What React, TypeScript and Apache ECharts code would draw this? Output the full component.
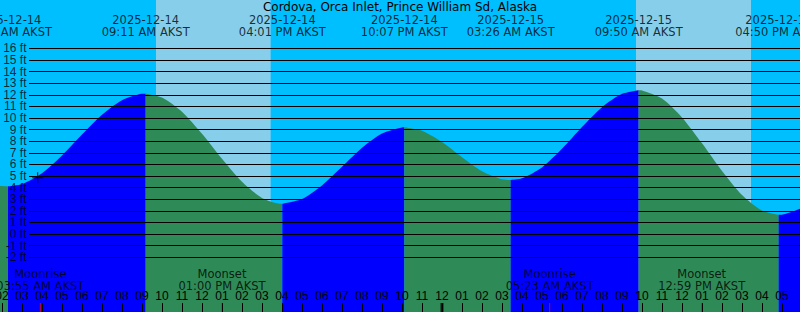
import React, { useEffect, useRef } from 'react';
import * as echarts from 'echarts';

const chartTitle = 'Cordova, Orca Inlet, Prince William Sd, Alaska';
const zoneName = 'AKST';

// tide extremes (high / low)
const tideEventDates = ['2025-12-14', '2025-12-14', '2025-12-14', '2025-12-14', '2025-12-15', '2025-12-15', '2025-12-15'];
const tideEventTimes = ['02:18 AM', '09:11 AM', '04:01 PM', '10:07 PM', '03:26 AM', '09:50 AM', '04:50 PM'];
const tideEventFeet = [4.1, 12.1, 2.6, 9.2, 4.65, 12.4, 1.65];

// water level (hours since 2025-12-14 00:00)
const curveHours = [1.9, 3, 4, 5, 6, 7, 8, 9, 10, 11, 12, 13, 14, 15, 16, 17, 18, 19, 20, 21, 22, 23, 24, 25, 26, 27, 28, 29, 30, 31, 32, 33, 34, 35, 36, 37, 38, 39, 40, 41, 41.9];
const curveFeet = [4.13, 4.3, 5.24, 6.77, 8.57, 10.27, 11.53, 12.09, 11.77, 10.54, 8.64, 6.48, 4.5, 3.11, 2.6, 3.01, 4.18, 5.79, 7.43, 8.66, 9.19, 8.9, 7.93, 6.62, 5.42, 4.72, 4.8, 5.74, 7.34, 9.22, 10.93, 12.08, 12.38, 11.68, 10.05, 7.82, 5.44, 3.37, 2.02, 1.66, 2.17];

// daylight
const sunriseDates = ['2025-12-14', '2025-12-15'];
const sunriseTimes = ['09:42 AM', '09:42 AM'];
const sunsetDates = ['2025-12-14', '2025-12-15'];
const sunsetTimes = ['03:26 PM', '03:27 PM'];

// moon
const moonEventNames = ['Moonrise', 'Moonset', 'Moonrise', 'Moonset'];
const moonEventDates = ['2025-12-14', '2025-12-14', '2025-12-15', '2025-12-15'];
const moonEventTimes = ['03:55 AM', '01:00 PM', '05:23 AM', '12:59 PM'];

// day boundary
const dayBoundaryDates = ['2025-12-15'];
const dayBoundaryTimes = ['12:00 AM'];

// current-time marker
const nowDate = '2025-12-14';
const nowTime = '03:47 AM';
const nowFeet = 4.85;

// hour ticks and height ticks
const hourTicks = [2, 3, 4, 5, 6, 7, 8, 9, 10, 11, 12, 13, 14, 15, 16, 17, 18, 19, 20, 21, 22, 23, 24, 25, 26, 27, 28, 29, 30, 31, 32, 33, 34, 35, 36, 37, 38, 39, 40, 41, 42];
const footTicks = [-2, -1, 0, 1, 2, 3, 4, 5, 6, 7, 8, 9, 10, 11, 12, 13, 14, 15, 16];

const X_MIN = 1.9;
const X_MAX = 41.9;
const Y_MIN = -6.724;
const Y_MAX = 20.172;
const FONT_NARROW = 'Liberation Sans';
const FONT_WIDE = 'DejaVu Sans';

function toHours(date: string, time: string): number {
  const dayOffset = (Date.parse(date) - Date.parse('2025-12-14')) / 3600000;
  const [hm, ap] = time.split(' ');
  let [h, m] = hm.split(':').map(Number);
  if (ap === 'PM' && h !== 12) h += 12;
  if (ap === 'AM' && h === 12) h = 0;
  return dayOffset + h + m / 60;
}

export default function App() {
  const ref = useRef<HTMLDivElement>(null);
  useEffect(() => {
    document.body.style.margin = '0';
    if (!ref.current) return;
    const chart = echarts.init(ref.current, undefined, { renderer: 'svg' });

    const eventHours = tideEventTimes.map((t, i) => toHours(tideEventDates[i], t));
    const pts: [number, number][] = curveHours.map((h, i) => [h, curveFeet[i]] as [number, number]);
    eventHours.forEach((h, i) => pts.push([h, tideEventFeet[i]]));
    pts.sort((a, b) => a[0] - b[0]);

    const bounds = [-Infinity, ...eventHours, Infinity];
    const segSeries: any[] = [];
    for (let i = 0; i < bounds.length - 1; i++) {
      const lo = bounds[i];
      const hi = bounds[i + 1];
      const seg = pts.filter((p) => p[0] >= lo && p[0] <= hi);
      if (seg.length < 2) continue;
      const rising = seg[seg.length - 1][1] > seg[0][1];
      segSeries.push({
        type: 'line',
        data: seg,
        smooth: 0.25,
        symbol: 'none',
        silent: true,
        z: 2,
        lineStyle: { width: 0 },
        areaStyle: { color: rising ? '#0000FF' : '#2E8B57', opacity: 1, origin: 'start' },
      });
    }

    const dayRanges = sunriseTimes.map((t, i) => [
      { xAxis: toHours(sunriseDates[i], t) },
      { xAxis: toHours(sunsetDates[i], sunsetTimes[i]) },
    ]);

    const moonHours = moonEventTimes.map((t, i) => toHours(moonEventDates[i], t));
    const dayHours = dayBoundaryTimes.map((t, i) => toHours(dayBoundaryDates[i], t));

    const hourLabel = (v: number) => {
      const h = ((Math.round(v) % 12) + 12) % 12;
      return String(h === 0 ? 12 : h).padStart(2, '0');
    };

    const option: any = {
      animation: false,
      backgroundColor: '#00BFFF',
      textStyle: { fontFamily: FONT_NARROW, color: '#000', fontSize: 12 },
      title: {
        text: chartTitle,
        left: 'center',
        top: 1,
        padding: 0,
        textStyle: { fontFamily: FONT_WIDE, fontSize: 12, fontWeight: 'normal', color: '#000' },
      },
      grid: [
        { left: 0, right: 0, top: 0, bottom: 0, outerBoundsMode: 'none', containLabel: false },
        { left: 29, right: 0, top: 48.4, height: 208.8, outerBoundsMode: 'none', containLabel: false },
      ],
      xAxis: [
        {
          gridIndex: 0,
          type: 'value',
          min: X_MIN,
          max: X_MAX,
          position: 'bottom',
          z: 10,
          axisLine: { show: false, onZero: false },
          splitLine: { show: false },
          axisTick: { show: true, inside: true, length: 9, lineStyle: { color: '#000', width: 1 }, customValues: hourTicks },
          axisLabel: {
            show: true,
            inside: true,
            margin: 10,
            customValues: hourTicks,
            formatter: hourLabel,
            color: '#000',
            fontSize: 12,
            fontFamily: FONT_NARROW,
            hideOverlap: false,
          },
        },
        { gridIndex: 1, type: 'value', min: X_MIN, max: X_MAX, show: false, axisLine: { onZero: false } },
      ],
      yAxis: [
        { gridIndex: 0, type: 'value', min: Y_MIN, max: Y_MAX, show: false },
        {
          gridIndex: 1,
          type: 'value',
          min: footTicks[0],
          max: footTicks[footTicks.length - 1],
          show: false,
        },
      ],
      series: [
        {
          type: 'line',
          data: [[X_MIN, Y_MIN]],
          symbol: 'none',
          lineStyle: { opacity: 0 },
          z: 1,
          silent: true,
          markArea: { silent: true, itemStyle: { color: '#87CEEB', opacity: 1 }, data: dayRanges },
        },
        ...segSeries,
        {
          type: 'line',
          xAxisIndex: 1,
          yAxisIndex: 1,
          data: [[X_MIN, footTicks[0]]],
          symbol: 'none',
          lineStyle: { opacity: 0 },
          z: 8,
          silent: true,
          markLine: {
            silent: true,
            symbol: 'none',
            label: { show: false },
            lineStyle: { color: '#000', width: 1, type: 'solid' },
            data: footTicks.map((v) => ({ yAxis: v })),
          },
        },
        {
          type: 'scatter',
          xAxisIndex: 1,
          yAxisIndex: 1,
          z: 9,
          silent: true,
          symbolSize: 1,
          itemStyle: { color: 'transparent' },
          data: footTicks.map((v) => [X_MIN, v]),
          label: {
            show: true,
            position: 'left',
            distance: 2,
            formatter: (p: any) => `${p.value[1]} ft`,
            color: '#000',
            fontSize: 12,
            fontFamily: FONT_NARROW,
          },
        },
        {
          type: 'scatter',
          z: 6,
          silent: true,
          symbolSize: 1,
          itemStyle: { color: 'transparent' },
          data: eventHours.map((h, i) => ({ value: [h, Y_MAX], name: `${tideEventDates[i]}\n${tideEventTimes[i]} ${zoneName}` })),
          label: {
            show: true,
            position: 'bottom',
            distance: 13,
            formatter: (p: any) => p.name,
            color: '#000',
            fontSize: 11.5,
            lineHeight: 12,
            fontFamily: FONT_WIDE,
            align: 'center',
          },
        },
        {
          type: 'scatter',
          z: 6,
          silent: true,
          symbolSize: 1,
          itemStyle: { color: 'transparent' },
          data: moonHours.map((h, i) => ({ value: [h, Y_MIN], name: `${moonEventNames[i]}\n${moonEventTimes[i]} ${zoneName}` })),
          label: {
            show: true,
            position: 'top',
            distance: 20,
            formatter: (p: any) => p.name,
            color: '#000',
            fontSize: 11.5,
            lineHeight: 12,
            fontFamily: FONT_WIDE,
            align: 'center',
          },
        },
        {
          type: 'scatter',
          z: 7,
          silent: true,
          symbol: 'rect',
          symbolSize: [1, 9],
          symbolOffset: [0, -4.5],
          itemStyle: { color: '#FF0000' },
          data: moonHours.map((h) => [h, Y_MIN]),
        },
        {
          type: 'scatter',
          z: 7,
          silent: true,
          symbol: 'rect',
          symbolSize: [3, 9],
          symbolOffset: [0, -4.5],
          itemStyle: { color: '#000' },
          data: dayHours.map((h) => [h, Y_MIN]),
        },
        {
          type: 'scatter',
          z: 7,
          silent: true,
          symbol: 'path://M0,4.5H10V5.5H0Z M4.5,0H5.5V10H4.5Z',
          symbolSize: 11,
          itemStyle: { color: '#000' },
          data: [[toHours(nowDate, nowTime), nowFeet]],
        },
      ],
    };
    chart.setOption(option);
    return () => chart.dispose();
  }, []);
  return <div ref={ref} style={{ width: 800, height: 312 }} />;
}
